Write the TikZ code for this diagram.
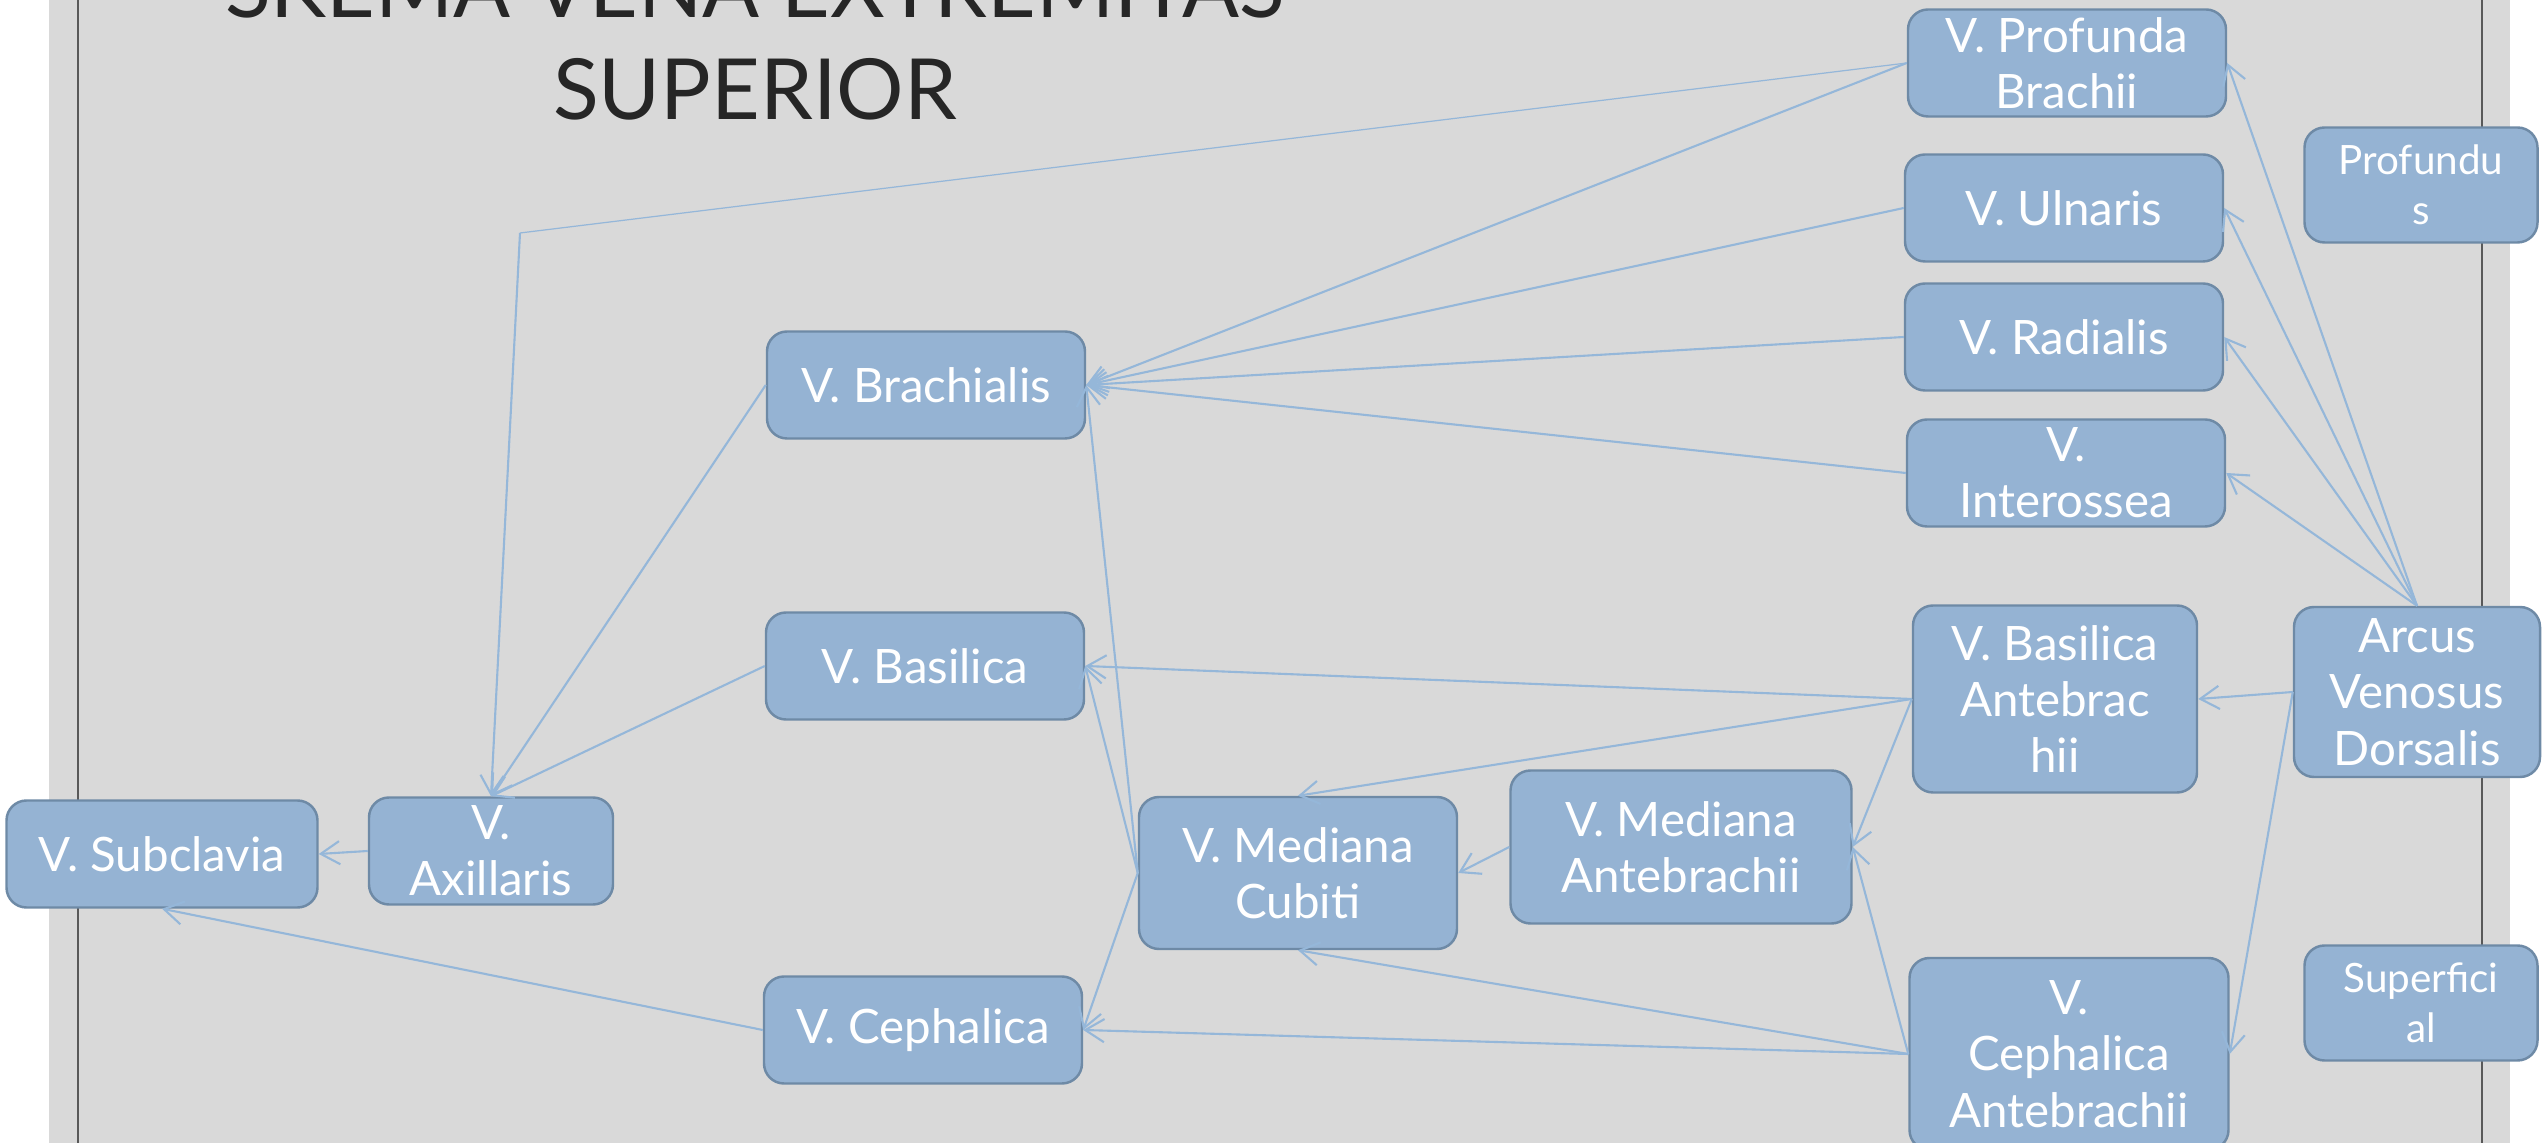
\documentclass[tikz,border=0pt]{standalone}
\usepackage{fontspec}
\setmainfont{Lato}
\usetikzlibrary{arrows.meta}

\definecolor{slidegray}{HTML}{D9D9D9}
\definecolor{framegray}{HTML}{595959}
\definecolor{titlegray}{HTML}{262626}
\definecolor{boxfill}{HTML}{95B3D3}
\definecolor{boxline}{HTML}{6E8AA6}
\definecolor{veinline}{HTML}{95B7D9}

\begin{document}
\begin{tikzpicture}[vein/.style={draw=boxline, fill=boxfill, line width=0.7pt, rounded corners=0.2cm, text=white, align=center, inner sep=0pt, minimum width=3.18cm, minimum height=1.07cm, font=\fontsize{13.5}{16}\selectfont},
    group/.style={vein, minimum width=2.33cm, minimum height=1.15cm, font=\fontsize{11.5}{14.2}\selectfont},
    title/.style={text=titlegray, inner sep=0pt, font=\fontsize{24}{29}\selectfont},
    flow/.style={draw=veinline, line width=0.6pt, -{Straight Barb[length=5.4pt,width=6.6pt]}},
    thinflow/.style={draw=veinline, line width=0.35pt}]

    \useasboundingbox (0,0) rectangle (25.42,11.43);

    % Slide background and frame
    \fill[slidegray] (0.49,0) rectangle (25.10,11.43);
    \draw[framegray, line width=0.4pt] (0.78,0) -- (0.78,11.43);
    \draw[framegray, line width=0.4pt] (24.82,0) -- (24.82,11.43);

    % Title
    \node[title, anchor=base] (title1) at (7.55,11.25) {SKEMA VENA EXTREMITAS};
    \node[title, anchor=base] (title2) at (7.55,10.23) {SUPERIOR};

    % Group labels
    \node[group] (profundus) at (24.21,9.58) {Profundu\\s};
    \node[group] (superf) at (24.21,1.40) {Superfici\\al};

    % Hand
    \node[vein, minimum width=2.46cm, minimum height=1.70cm] (arcus) at (24.17,4.51) {Arcus\\Venosus\\Dorsalis};

    % Deep veins of the forearm
    \node[vein] (prof) at (20.67,10.80) {V. Profunda\\Brachii};
    \node[vein] (uln) at (20.64,9.35) {V. Ulnaris};
    \node[vein] (rad) at (20.64,8.06) {V. Radialis};
    \node[vein] (inter) at (20.66,6.70) {V.\\Interossea};

    % Superficial veins of the forearm
    \node[vein, minimum width=2.84cm, minimum height=1.87cm] (basant) at (20.55,4.44) {V. Basilica\\Antebrac\\hii};
    \node[vein, minimum width=3.19cm, minimum height=1.92cm] (cephant) at (20.69,0.89) {V.\\Cephalica\\Antebrachii};
    \node[vein, minimum width=3.41cm, minimum height=1.53cm] (medant) at (16.81,2.96) {V. Mediana\\Antebrachii};
    \node[vein, minimum height=1.52cm] (medcub) at (12.98,2.70) {V. Mediana\\Cubiti};

    % Upper arm
    \node[vein] (brach) at (9.26,7.58) {V. Brachialis};
    \node[vein] (basil) at (9.25,4.77) {V. Basilica};
    \node[vein] (ceph) at (9.23,1.13) {V. Cephalica};
    \node[vein, minimum width=2.44cm] (axill) at (4.91,2.92) {V.\\Axillaris};
    \node[vein, minimum width=3.11cm] (subcl) at (1.62,2.89) {V. Subclavia};
    \coordinate (kink) at (5.20,9.10);

    % From the arch
    \draw[flow] (arcus.north) -- (prof.east);
    \draw[flow] (arcus.north) -- (uln.east);
    \draw[flow] (arcus.north) -- (rad.east);
    \draw[flow] (arcus.north) -- (inter.east);
    \draw[flow] (arcus.west) -- (basant.east);
    \draw[flow] (arcus.west) -- (cephant.east);

    % Into V. Brachialis
    \draw[flow] (prof.west) -- (brach.east);
    \draw[flow] (uln.west) -- (brach.east);
    \draw[flow] (rad.west) -- (brach.east);
    \draw[flow] (inter.west) -- (brach.east);
    \draw[flow] (medcub.west) -- (brach.east);

    % Forearm to elbow
    \draw[flow] (basant.west) -- (basil.east);
    \draw[flow] (basant.west) -- (medcub.north);
    \draw[flow] (basant.west) -- (medant.east);
    \draw[flow] (cephant.west) -- (medant.east);
    \draw[flow] (cephant.west) -- (medcub.south);
    \draw[flow] (cephant.west) -- (ceph.east);
    \draw[flow] (medant.west) -- (medcub.east);
    \draw[flow] (medcub.west) -- (basil.east);
    \draw[flow] (medcub.west) -- (ceph.east);

    % Upper arm to V. Subclavia
    \draw[thinflow] (prof.west) -- (kink);
    \draw[flow] (kink) -- (axill.north);
    \draw[flow] (brach.west) -- (axill.north);
    \draw[flow] (basil.west) -- (axill.north);
    \draw[flow] (axill.west) -- (subcl.east);
    \draw[flow] (ceph.west) -- (subcl.south);

\end{tikzpicture}
\end{document}
